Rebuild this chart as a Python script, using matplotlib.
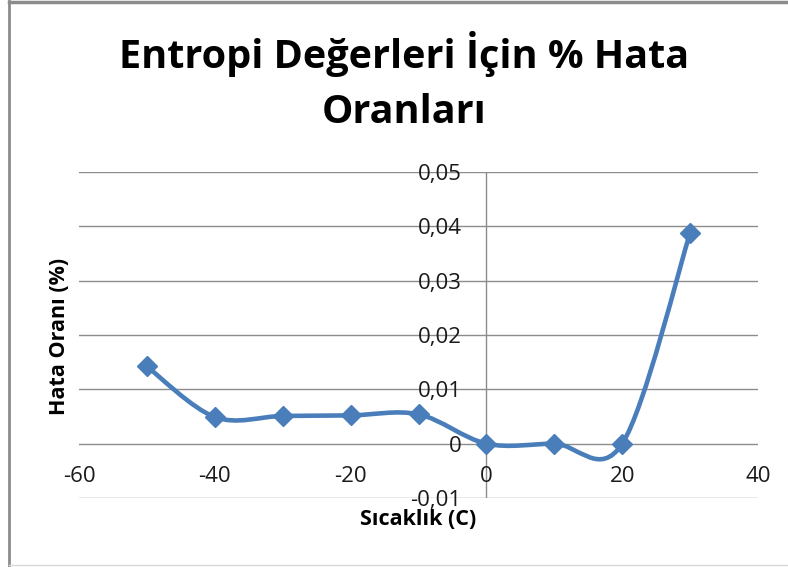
import numpy as np
import matplotlib
matplotlib.use("Agg")
import matplotlib.pyplot as plt
from matplotlib.path import Path
from matplotlib.patches import PathPatch
from matplotlib.lines import Line2D
from matplotlib.ticker import FuncFormatter

# veriler
sicaklik = [-50, -40, -30, -20, -10, 0, 10, 20, 30]
hata_orani = [0.0142, 0.0049, 0.0051, 0.0052, 0.0054, 0.0, 0.0, 0.0, 0.0388]
x_ticks = [-60, -40, -20, 0, 20, 40]
y_ticks = [-0.01, 0.0, 0.01, 0.02, 0.03, 0.04, 0.05]

mavi = "#4A7EBB"
gri = "#8C8C8C"
plt.rcParams["font.family"] = ["Open Sans", "DejaVu Sans"]
plt.rcParams["axes.unicode_minus"] = False


def smooth_path(xs, ys):
    # Excel benzeri yumusatilmis cizgi (Catmull-Rom -> Bezier)
    pts = np.column_stack([xs, ys]).astype(float)
    n = len(pts)
    verts = [pts[0]]
    codes = [Path.MOVETO]
    for i in range(n - 1):
        p0 = pts[i - 1] if i > 0 else pts[i]
        p1 = pts[i]
        p2 = pts[i + 1]
        p3 = pts[i + 2] if i + 2 < n else pts[i + 1]
        c1 = p1 + (p2 - p0) / 6.0
        c2 = p2 - (p3 - p1) / 6.0
        verts += [c1, c2, p2]
        codes += [Path.CURVE4] * 3
    return Path(verts, codes)


fig = plt.figure(figsize=(7.88, 5.67), dpi=100)
ax = fig.add_axes([0.1003, 0.1217, 0.8617, 0.575])

ax.set_xlim(-60, 40)
ax.set_ylim(-0.01, 0.05)

for y in y_ticks:
    ax.axhline(y, color=gri, lw=1.0, zorder=1)
ax.axvline(0, color=gri, lw=1.0, zorder=1)

ax.add_patch(PathPatch(smooth_path(sicaklik, hata_orani), fill=False,
                       edgecolor=mavi, lw=3.3, zorder=3, capstyle="round"))
ax.plot(sicaklik, hata_orani, linestyle="none", marker="D", markersize=10.5,
        color=mavi, zorder=4)

for s in ax.spines.values():
    s.set_visible(False)
ax.spines["left"].set_position(("data", 0))
ax.spines["bottom"].set_position(("data", 0))

ax.set_xticks(x_ticks)
ax.set_yticks(y_ticks)
ax.yaxis.set_major_formatter(FuncFormatter(
    lambda v, p: "0" if abs(v) < 1e-9 else ("%.2f" % v).replace(".", ",")))
ax.tick_params(axis="both", length=0, labelsize=16, colors="#1a1a1a")
ax.tick_params(axis="x", pad=16)
ax.tick_params(axis="y", pad=18)

fig.text(0.075, 0.407, "Hata Oranı (%)", rotation=90, ha="center", va="center",
         fontsize=15.5, fontweight="bold")
fig.text(0.531, 0.083, "Sıcaklık (C)", ha="center", va="center",
         fontsize=15.5, fontweight="bold")

fig.text(0.513, 0.905, "Entropi Değerleri İçin % Hata", ha="center",
         va="center", fontsize=28.5, fontweight="bold")
fig.text(0.513, 0.802, "Oranları", ha="center", va="center",
         fontsize=28.5, fontweight="bold")

# cerceve
fig.lines.append(Line2D([0.012, 0.012], [0.0, 0.998], transform=fig.transFigure,
                        color=gri, lw=2))
fig.lines.append(Line2D([0.012, 1.0], [0.997, 0.997], transform=fig.transFigure,
                        color=gri, lw=2.5))
fig.lines.append(Line2D([0.012, 1.0], [0.003, 0.003], transform=fig.transFigure,
                        color="#d9d9d9", lw=1))

fig.savefig("out.png", dpi=100)
